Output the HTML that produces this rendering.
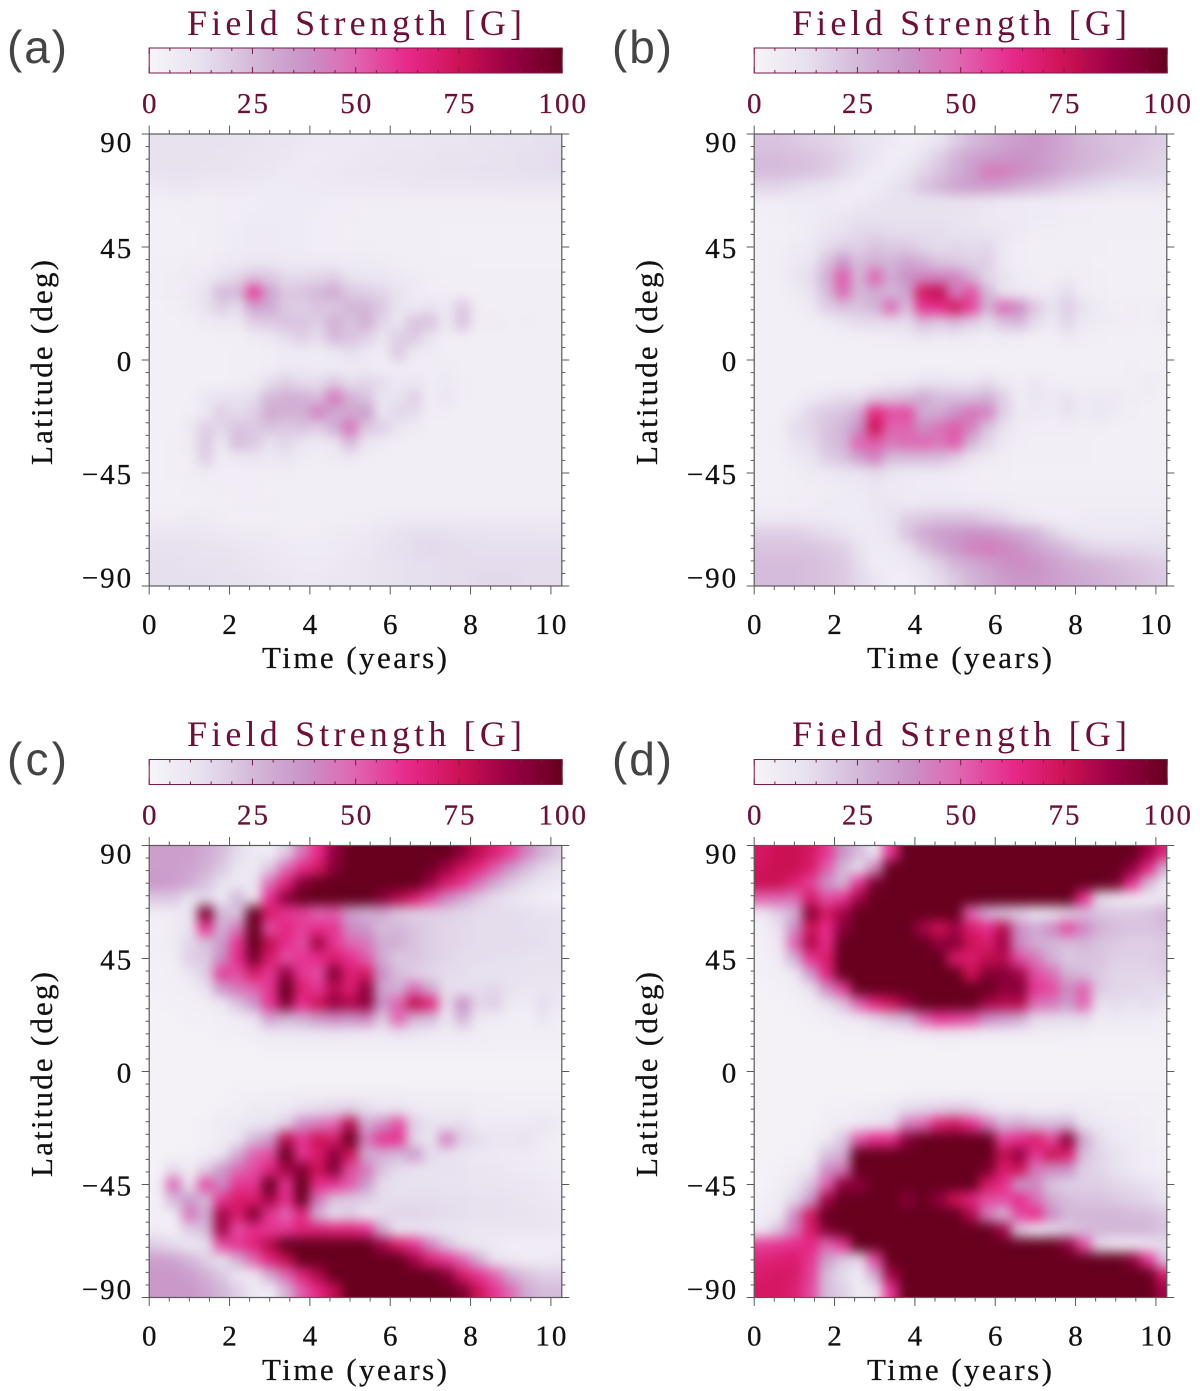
<!DOCTYPE html>
<html lang="en">
<head>
<meta charset="utf-8">
<title>Field Strength butterfly diagrams</title>
<style>
html,body{margin:0;padding:0;background:#fff;}
svg{display:block;}
text{font-family:"Liberation Serif",serif;}
.title{font-size:36px;fill:#6e0f3a;}
.axis-title{font-size:31px;fill:#111;stroke:#111;stroke-width:.25px;}
.panel-tag{font-family:"Liberation Sans",sans-serif;font-size:46px;fill:#444;}
.tick{font-size:29px;fill:#111;stroke:#111;stroke-width:.25px;}
.cb-tick{font-size:29px;fill:#6e0f3a;stroke:#6e0f3a;stroke-width:.25px;}
</style>
</head>
<body>
<svg id="figure" xmlns="http://www.w3.org/2000/svg" width="1200" height="1391" viewBox="0 0 1200 1391">
<defs>
<filter id="soft" filterUnits="userSpaceOnUse" x="0" y="0" width="1200" height="1391" color-interpolation-filters="sRGB"><feGaussianBlur stdDeviation="5.5 6"/></filter>
<linearGradient id="cb-gradient" x1="0" x2="1" y1="0" y2="0"></linearGradient>
</defs>
<rect x="0" y="0" width="1200" height="1391" fill="#ffffff"/>
<g id="panel-a"></g>
<g id="panel-b"></g>
<g id="panel-c"></g>
<g id="panel-d"></g>

<text class="panel-tag" x="7" y="63" textLength="60">(a)</text>
<text class="panel-tag" x="612" y="63" textLength="60">(b)</text>
<text class="panel-tag" x="7" y="775" textLength="60">(c)</text>
<text class="panel-tag" x="612" y="775" textLength="60">(d)</text>

<text class="title" x="187" y="35" textLength="335">Field Strength [G]</text>
<text class="title" x="792" y="35" textLength="335">Field Strength [G]</text>
<text class="title" x="187" y="746" textLength="335">Field Strength [G]</text>
<text class="title" x="792" y="746" textLength="335">Field Strength [G]</text>

<text class="axis-title" x="262" y="668" textLength="185">Time (years)</text>
<text class="axis-title" x="867" y="668" textLength="185">Time (years)</text>
<text class="axis-title" x="262" y="1380" textLength="185">Time (years)</text>
<text class="axis-title" x="867" y="1380" textLength="185">Time (years)</text>

<text class="axis-title" transform="translate(52,465) rotate(-90)" textLength="205">Latitude (deg)</text>
<text class="axis-title" transform="translate(657,465) rotate(-90)" textLength="205">Latitude (deg)</text>
<text class="axis-title" transform="translate(52,1177) rotate(-90)" textLength="205">Latitude (deg)</text>
<text class="axis-title" transform="translate(657,1177) rotate(-90)" textLength="205">Latitude (deg)</text>
</svg>

<script>
// Tick labels
const timeTicks = [0, 2, 4, 6, 8, 10];
const latTicks = [90, 45, 0, -45, -90];
const colorbarTicks = [0, 25, 50, 75, 100];
// Colour scale: field strength in gauss and its colour
const scaleValues = [0, 12.5, 25, 37.5, 50, 62.5, 75, 87.5, 100];
const scaleColors = ['#f7f4f9', '#e7e1ef', '#d4b9da', '#c994c7', '#df65b0', '#e7298a', '#ce1256', '#980043', '#67001f'];
// Heatmap grid: columns every 0.4 yr starting at t=0, rows every 6 deg starting at +90
const timeStepYears = 0.4;
const latStepDeg = 6;

const fieldA = [
[12,12,12,12,12,11,11,10,10,9,8,8,8,8,9,9,9,10,10,10,11,11,12,12,13,13],
[12,12,12,12,11,11,10,10,9,7,7,8,8,9,9,10,10,10,11,11,11,12,12,13,13,14],
[12,12,12,11,11,10,10,9,7,7,8,8,9,9,10,10,10,11,11,11,12,12,12,13,13,14],
[8,9,9,8,8,8,7,6,6,7,7,8,8,8,8,8,9,9,9,9,9,9,10,10,10,10],
[4,4,4,4,5,5,5,6,6,6,6,5,5,5,5,5,5,5,5,5,5,5,5,5,5,5],
[3,3,4,4,5,5,6,6,6,6,5,5,5,4,4,4,4,4,4,4,4,4,4,4,4,4],
[3,3,3,4,5,6,7,7,6,6,5,5,4,4,4,4,4,4,3,3,3,3,3,3,3,3],
[3,3,3,4,5,6,7,7,6,6,5,5,5,5,4,4,4,4,3,3,3,3,3,3,3,3],
[4,4,5,5,7,8,9,9,8,8,7,7,6,6,6,5,4,4,4,4,3,3,3,3,3,3],
[4,5,6,8,12,16,22,20,15,15,16,18,12,10,9,8,6,5,4,4,4,4,4,4,4,4],
[4,5,7,12,25,25,58,32,20,22,25,30,20,18,16,12,7,5,5,4,4,4,4,4,4,4],
[3,4,6,12,18,14,32,30,20,18,22,20,26,26,20,10,8,12,8,20,5,4,4,4,4,4],
[3,3,4,6,8,8,18,20,22,22,18,28,22,28,16,10,22,22,8,22,5,7,4,5,4,4],
[3,3,3,3,4,4,6,8,14,18,14,25,22,18,10,18,20,10,5,5,4,4,4,4,4,4],
[3,3,3,3,3,4,4,5,6,6,6,8,14,8,6,20,8,6,4,4,4,4,4,4,4,4],
[3,3,3,3,3,4,4,5,8,8,6,6,6,7,5,6,5,5,6,4,4,4,4,4,4,4],
[3,3,3,3,3,5,6,14,18,14,14,20,14,16,14,8,10,6,8,5,4,4,4,4,4,4],
[3,3,3,10,12,12,14,25,28,28,24,45,28,22,10,12,18,5,10,5,4,4,4,4,4,4],
[3,3,4,8,18,14,18,30,28,28,42,30,30,34,10,16,14,5,5,4,4,4,4,4,4,4],
[3,3,8,18,16,22,20,22,20,22,18,28,46,20,18,10,6,4,4,4,4,4,4,4,4,4],
[3,4,6,20,8,24,20,12,16,10,8,10,24,10,6,5,4,4,4,4,4,4,4,4,4,4],
[3,4,5,18,6,8,10,8,10,6,5,6,8,5,4,4,4,4,4,4,4,4,4,4,4,4],
[3,4,5,6,5,5,5,5,5,4,4,4,4,4,4,4,4,4,4,4,4,4,4,4,4,4],
[3,3,4,4,5,5,5,4,4,4,4,4,4,4,4,4,4,4,4,4,4,4,4,4,4,4],
[3,3,3,4,4,5,5,5,4,4,4,4,4,4,4,4,4,4,4,4,4,4,4,4,4,4],
[5,5,6,6,5,4,4,4,4,4,4,4,5,5,6,7,7,7,7,7,7,7,7,7,7,7],
[10,10,10,9,8,7,6,6,5,5,5,6,7,8,10,12,13,13,13,12,12,11,11,11,10,10],
[12,12,12,11,11,10,9,8,7,6,6,7,8,9,11,13,14,15,14,14,13,13,13,13,13,13],
[13,13,12,12,12,11,10,9,8,7,7,8,9,10,11,12,13,13,14,14,14,14,14,14,14,14],
[13,13,13,13,12,12,11,10,9,8,8,9,9,10,11,12,13,13,14,14,15,15,15,14,14,14]
];

const fieldB = [
[22,22,20,18,17,15,12,10,8,4,6,10,18,24,28,32,34,36,34,30,26,24,22,22,20,18],
[24,24,23,22,20,17,13,10,5,6,12,18,26,32,34,36,38,36,33,30,27,25,23,21,19,17],
[24,24,23,22,20,15,11,5,6,10,16,22,28,34,44,44,40,36,33,28,25,22,20,18,17,16],
[16,16,14,12,10,8,5,6,10,14,22,26,32,34,34,32,28,25,22,18,16,14,12,12,12,11],
[5,5,6,6,7,5,7,10,12,12,12,12,12,12,10,8,7,6,6,5,5,5,5,5,5,5],
[3,4,5,6,8,10,12,12,12,12,12,12,11,10,8,7,7,6,6,5,5,4,4,4,4,4],
[3,3,4,6,10,12,15,16,14,14,14,14,12,12,10,10,7,5,5,4,4,4,4,4,4,4],
[3,4,6,8,14,18,18,22,20,20,16,14,16,14,16,8,5,4,4,4,4,4,3,3,3,3],
[3,4,8,10,22,36,24,28,26,32,28,22,20,18,18,8,5,4,4,4,4,3,3,3,3,3],
[3,4,10,14,28,52,26,50,30,38,42,42,42,28,16,12,6,5,5,6,5,4,3,3,3,3],
[3,3,6,12,24,48,26,30,26,32,72,78,44,54,26,12,8,6,8,14,5,4,3,3,3,3],
[3,3,4,8,18,22,22,26,48,24,60,62,72,58,28,48,40,20,12,18,12,6,4,5,4,6],
[3,3,3,4,6,10,14,14,14,14,24,20,24,18,14,22,25,14,8,16,8,6,5,5,4,6],
[3,3,3,3,3,4,4,5,5,7,10,7,8,6,5,6,5,4,4,8,5,4,3,3,3,3],
[3,3,3,3,3,3,3,3,3,3,3,3,3,3,3,3,3,3,3,3,3,3,3,3,3,3],
[3,3,3,3,3,3,3,3,3,3,3,3,3,3,3,3,3,3,3,3,3,3,3,4,3,3],
[3,3,3,3,3,3,3,5,7,8,12,12,10,10,14,8,5,10,5,4,4,4,4,4,6,4],
[3,3,3,8,12,14,14,20,22,24,30,24,24,24,28,18,6,10,8,12,6,8,8,5,4,3],
[3,3,8,16,20,22,30,65,55,55,30,30,38,46,42,18,8,8,6,12,6,10,6,4,3,3],
[3,4,14,16,22,26,38,75,50,50,40,46,52,42,22,12,6,5,5,5,4,4,3,3,3,3],
[3,4,10,14,22,26,50,52,45,48,50,45,52,26,16,8,5,4,4,4,4,3,3,3,3,3],
[3,3,8,10,18,22,32,42,24,24,24,24,18,10,7,5,4,4,4,4,4,3,3,3,3,3],
[3,3,4,6,8,10,10,14,10,8,7,7,5,5,4,4,3,3,3,3,3,3,3,3,3,3],
[3,3,4,5,5,6,8,9,7,7,6,6,6,5,5,4,4,4,4,4,4,4,4,4,4,4],
[4,4,5,5,6,6,6,9,10,7,8,8,8,7,7,6,5,5,5,5,5,5,5,5,5,5],
[8,8,8,8,7,6,6,8,12,18,20,22,22,22,18,16,10,7,5,5,6,6,6,6,6,6],
[18,18,18,16,14,12,8,8,10,22,30,34,36,38,38,34,30,26,18,12,9,8,8,8,9,9],
[22,22,22,22,20,18,12,6,8,12,22,30,36,42,44,42,38,32,28,24,18,16,15,15,14,13],
[24,24,24,23,22,20,14,5,6,8,12,18,26,30,34,38,40,38,34,30,28,26,24,22,20,18],
[24,24,24,23,22,20,15,10,5,5,8,14,20,26,30,34,36,36,34,32,30,28,26,24,22,20]
];

const fieldC = [
[34,34,34,30,24,14,8,5,18,45,62,88,100,100,100,100,100,100,100,90,78,68,58,42,28,20],
[34,34,32,28,20,10,7,20,48,62,72,92,100,100,100,100,100,98,86,74,64,52,36,24,16,12],
[36,34,30,22,12,7,10,48,66,92,100,100,100,100,100,100,100,86,70,60,46,30,20,14,10,8],
[20,20,12,15,8,25,10,62,90,100,100,100,100,100,92,82,70,56,42,30,20,14,10,8,5,4],
[5,6,10,95,25,22,100,70,60,58,50,52,34,28,30,20,18,18,18,16,14,14,14,13,12,11],
[3,6,12,60,28,45,100,55,65,58,62,60,40,36,24,26,22,18,16,15,14,14,14,13,13,12],
[4,6,16,22,35,60,100,78,62,55,85,60,50,45,30,28,22,18,16,15,14,14,14,14,13,12],
[3,5,18,20,40,62,95,70,55,60,62,70,62,52,30,20,22,18,16,14,14,13,13,12,12,12],
[3,4,10,18,58,55,70,60,88,60,55,92,68,72,38,24,18,16,14,14,12,12,12,12,11,11],
[3,3,5,12,35,45,50,60,100,68,60,80,68,90,32,28,48,30,14,12,14,16,12,10,10,10],
[2,3,3,5,8,22,36,60,92,62,75,88,82,90,38,50,78,66,14,38,16,18,8,6,14,8],
[2,2,3,3,4,6,10,32,26,28,36,40,38,42,20,50,26,24,10,26,8,6,5,4,10,4],
[2,2,2,2,3,3,5,7,8,9,9,9,9,8,8,12,9,7,6,7,5,4,4,4,4,4],
[2,2,2,2,2,2,2,3,3,3,3,3,3,3,3,3,3,3,3,3,3,3,3,3,3,3],
[2,2,2,2,2,2,2,2,2,2,2,2,2,2,2,2,2,2,2,2,2,2,2,2,2,2],
[2,2,2,2,2,2,2,2,2,2,2,2,2,2,2,2,2,2,2,2,2,2,2,2,2,2],
[2,2,2,2,2,3,3,4,4,5,5,5,5,5,5,5,4,4,4,4,4,4,3,3,3,3],
[2,2,2,2,3,4,6,6,8,12,14,16,18,14,10,12,8,6,6,6,5,4,4,4,4,4],
[2,2,2,3,6,8,10,12,18,40,45,50,80,30,40,55,18,12,12,14,6,8,8,8,10,6],
[2,2,2,3,5,10,25,35,80,60,75,70,100,45,60,60,15,10,42,18,14,10,10,12,6,4],
[2,2,3,5,10,30,50,55,100,60,70,90,75,30,28,25,35,15,12,10,8,8,7,7,5,4],
[2,14,6,18,35,48,55,65,85,92,75,92,55,45,22,14,12,12,12,11,10,9,8,7,6,5],
[3,48,12,55,40,60,60,100,60,100,62,60,52,35,14,12,12,12,11,11,10,10,10,9,8,7],
[3,25,35,25,60,70,70,85,62,98,45,22,20,18,14,14,14,14,13,13,12,12,11,10,9,8],
[4,6,45,30,85,70,92,60,50,65,28,14,18,10,14,16,16,15,14,13,12,12,11,11,10,9],
[5,4,18,25,85,55,62,60,60,66,68,66,66,62,30,10,12,10,10,10,10,10,10,10,10,9],
[18,14,8,12,55,60,66,80,100,100,100,100,100,100,85,70,60,42,22,12,8,7,5,5,5,5],
[34,32,26,18,12,28,50,66,78,100,100,100,100,100,100,100,85,68,60,50,28,12,8,6,6,8],
[36,36,34,28,20,8,8,30,50,66,82,100,100,100,100,100,100,100,92,70,60,50,30,22,18,18],
[36,36,36,32,26,18,8,5,26,52,64,78,100,100,100,100,100,100,100,94,74,60,48,30,24,24]
];

const fieldD = [
[72,76,76,72,60,38,24,10,60,100,100,100,100,100,100,100,100,100,100,100,100,100,100,100,86,66],
[74,76,76,70,52,26,14,42,100,100,100,100,100,100,100,100,100,100,100,100,100,100,100,90,65,28],
[76,76,68,58,38,26,60,95,100,100,100,100,100,100,100,100,100,100,100,100,100,100,96,62,26,8],
[50,50,48,70,55,60,85,100,100,100,100,100,100,100,100,100,100,100,100,100,62,14,8,6,6,10],
[8,18,28,92,72,85,100,100,100,100,100,100,100,50,28,22,18,10,12,18,24,22,20,20,22,26],
[4,12,40,75,62,90,100,100,100,100,85,75,85,70,62,80,40,30,40,55,42,28,24,22,22,24],
[3,8,50,82,62,100,100,100,100,100,100,90,92,75,70,85,40,30,26,24,26,22,20,18,18,20],
[3,6,28,60,70,100,100,100,100,100,100,100,70,70,78,80,55,45,28,20,22,22,18,18,18,20],
[3,4,8,35,65,100,100,100,100,100,100,100,100,75,92,92,85,55,48,28,24,20,16,16,16,18],
[2,3,4,12,40,58,100,100,100,100,100,100,100,100,100,90,92,60,55,40,50,20,16,16,14,14],
[2,2,3,5,12,22,50,65,75,88,100,100,100,100,85,80,80,48,45,35,50,12,14,12,14,10],
[2,2,2,3,4,6,8,15,22,25,50,60,58,55,40,35,30,15,14,14,14,6,8,6,6,5],
[2,2,2,2,2,3,3,4,4,5,6,7,7,6,6,6,5,5,5,4,4,3,3,3,3,3],
[2,2,2,2,2,2,2,2,2,2,2,2,2,2,2,2,2,2,2,2,2,2,2,2,2,2],
[2,2,2,2,2,2,2,2,2,2,2,2,2,2,2,2,2,2,2,2,2,2,2,2,2,2],
[2,2,2,2,2,2,2,2,2,2,2,2,2,2,2,2,2,2,2,2,2,2,2,2,2,2],
[2,2,2,2,2,2,2,2,2,3,3,3,3,3,3,3,3,3,3,3,3,3,3,3,3,3],
[2,2,2,2,3,3,5,6,8,14,16,18,20,18,12,8,8,6,6,8,6,5,4,4,3,3],
[2,2,2,2,4,6,8,10,14,44,50,68,74,62,46,26,30,24,24,26,12,8,6,5,4,3],
[2,2,2,3,8,20,52,62,62,90,100,100,100,100,100,58,62,70,56,90,30,14,8,6,4,3],
[2,2,3,4,22,28,100,100,100,100,100,100,100,100,100,78,88,60,75,70,24,16,12,8,5,4],
[2,3,5,10,38,45,100,100,100,100,100,100,100,100,95,70,75,45,40,38,18,16,12,8,5,4],
[2,4,10,22,50,90,90,100,100,100,100,100,100,100,72,62,36,40,22,18,18,18,16,14,12,8],
[3,6,16,35,85,100,100,100,100,92,100,90,75,65,55,55,62,48,30,24,22,22,20,18,16,12],
[5,8,40,72,100,100,100,100,100,100,100,100,100,82,45,25,56,62,40,26,26,26,26,24,24,20],
[8,22,45,70,92,100,100,100,100,100,100,100,100,100,100,85,20,8,14,20,24,26,26,26,26,22],
[58,60,62,64,50,60,100,100,100,100,100,100,100,100,100,100,100,100,100,90,55,14,8,8,10,14],
[66,68,70,60,34,20,15,55,100,100,100,100,100,100,100,100,100,100,100,100,100,100,100,92,60,22],
[70,72,70,58,24,14,6,30,85,100,100,100,100,100,100,100,100,100,100,100,100,100,100,100,100,70],
[72,72,68,56,24,18,6,10,60,100,100,100,100,100,100,100,100,100,100,100,100,100,100,100,100,85]
];

const SVG_NS = 'http://www.w3.org/2000/svg';
const PLOT_W = 412.6, PLOT_H = 452, PX_PER_YEAR = 40.17, CB_W = 413, CB_H = 25;
const AXIS_COLOR = '#5a5a5a', CB_COLOR = '#7a1a46';

function hex(c, i) { return parseInt(c.substr(1 + i * 2, 2), 16); }
function colorFor(v) {
  const x = Math.max(0, Math.min(100, v));
  let i = 0;
  while (i < scaleValues.length - 2 && x > scaleValues[i + 1]) i++;
  const f = (x - scaleValues[i]) / (scaleValues[i + 1] - scaleValues[i]);
  const ch = [0, 1, 2].map(k => Math.round(hex(scaleColors[i], k) + f * (hex(scaleColors[i + 1], k) - hex(scaleColors[i], k))));
  return 'rgb(' + ch.join(',') + ')';
}
function make(parent, tag, attrs) {
  const el = document.createElementNS(SVG_NS, tag);
  for (const k in attrs) el.setAttribute(k, attrs[k]);
  parent.appendChild(el);
  return el;
}

// Colorbar gradient built from the colour scale
const gradient = document.getElementById('cb-gradient');
scaleValues.forEach((v, i) => {
  make(gradient, 'stop', { offset: (v / 100), 'stop-color': scaleColors[i] });
});

function drawPanel(id, x0, y0, grid) {
  const root = document.getElementById('panel-' + id);
  const xScale = t => x0 + t * PX_PER_YEAR;
  const yScale = lat => y0 + (90 - lat) * PLOT_H / 180;
  const cbScale = v => x0 + v * CB_W / 100;
  const cbTop = y0 - 86;

  // clip
  const defs = make(root, 'defs', {});
  const clip = make(defs, 'clipPath', { id: 'clip-' + id });
  make(clip, 'rect', { x: x0, y: y0, width: PLOT_W, height: PLOT_H });

  // heatmap
  const clipGroup = make(root, 'g', { 'clip-path': 'url(#clip-' + id + ')' });
  
  
  const blurGroup = make(clipGroup, 'g', { filter: 'url(#soft)' });
  grid.forEach((row, r) => {
    const nRows = grid.length;
    row.forEach((value, c) => {
      let x = xScale(c * timeStepYears);
      let w = xScale((c + 1) * timeStepYears) - x + 0.6;
      let y = yScale(90 - r * latStepDeg);
      let h = yScale(90 - (r + 1) * latStepDeg) - y + 0.6;
      if (c === 0) { x -= 24; w += 24; }
      if (c === row.length - 1) { w += 24; }
      if (r === 0) { y -= 24; h += 24; }
      if (r === nRows - 1) { h += 24; }
      const cell = make(blurGroup, 'rect', { x: x, y: y, width: w, height: h, fill: colorFor(value) });
      
      
    });
  });

  // frame
  const frame = make(root, 'rect', { x: x0, y: y0, width: PLOT_W, height: PLOT_H, fill: 'none', stroke: AXIS_COLOR, 'stroke-width': 1.2 });
  
  

  // x ticks: every 0.5 yr, major on labelled years
  for (let k = 0; k * 0.5 <= 10.27; k++) {
    const t = k * 0.5;
    const major = timeTicks.includes(t);
    const len = major ? 8.5 : 4;
    const x = xScale(t);
    const tb = make(root, 'line', { x1: x, x2: x, y1: y0 + PLOT_H, y2: y0 + PLOT_H + len, stroke: AXIS_COLOR, 'stroke-width': 1 });
    
    
    const tt = make(root, 'line', { x1: x, x2: x, y1: y0, y2: y0 - len, stroke: AXIS_COLOR, 'stroke-width': 1 });
    
    
  }
  // y ticks: every 5 deg
  for (let lat = -90; lat <= 90; lat += 5) {
    const major = latTicks.includes(lat);
    const len = major ? 7.5 : 3.5;
    const y = yScale(lat);
    const tl = make(root, 'line', { x1: x0, x2: x0 - len, y1: y, y2: y, stroke: AXIS_COLOR, 'stroke-width': 1 });
    
    
    const tr = make(root, 'line', { x1: x0 + PLOT_W, x2: x0 + PLOT_W + len, y1: y, y2: y, stroke: AXIS_COLOR, 'stroke-width': 1 });
    
    
  }
  // tick labels
  timeTicks.forEach(t => {
    const label = make(root, 'text', { x: xScale(t) + 1, y: y0 + PLOT_H + 48, 'text-anchor': 'middle', 'letter-spacing': 2, class: 'tick' });
    label.textContent = String(t);
    
    
  });
  latTicks.forEach(lat => {
    const centre = Math.max(y0 + 8.5, Math.min(y0 + PLOT_H - 8, yScale(lat) + 1.5));
    const label = make(root, 'text', { x: x0 - 16, y: centre + 9.5, 'text-anchor': 'end', 'letter-spacing': 2, class: 'tick' });
    label.textContent = (lat < 0 ? '\u2212' : '') + Math.abs(lat);
    
    
  });

  // colorbar
  const bar = make(root, 'rect', { x: x0, y: cbTop, width: CB_W, height: CB_H, fill: 'url(#cb-gradient)', stroke: CB_COLOR, 'stroke-width': 1 });
  
  
  for (let v = 0; v <= 100; v += 5) {
    const major = colorbarTicks.includes(v);
    const len = major ? 6 : 3;
    const x = cbScale(v);
    const t1 = make(root, 'line', { x1: x, x2: x, y1: cbTop, y2: cbTop + len, stroke: CB_COLOR, 'stroke-width': 1 });
    
    
    const t2 = make(root, 'line', { x1: x, x2: x, y1: cbTop + CB_H, y2: cbTop + CB_H - len, stroke: CB_COLOR, 'stroke-width': 1 });
    
    
  }
  colorbarTicks.forEach(v => {
    const label = make(root, 'text', { x: cbScale(v) + 1, y: cbTop + 65, 'text-anchor': 'middle', 'letter-spacing': 2, class: 'cb-tick' });
    label.textContent = String(v);
    
    
  });
}

drawPanel('a', 149.2, 134, fieldA);
drawPanel('b', 754.2, 134, fieldB);
drawPanel('c', 149.2, 845.5, fieldC);
drawPanel('d', 754.2, 845.5, fieldD);
</script>
</body>
</html>
